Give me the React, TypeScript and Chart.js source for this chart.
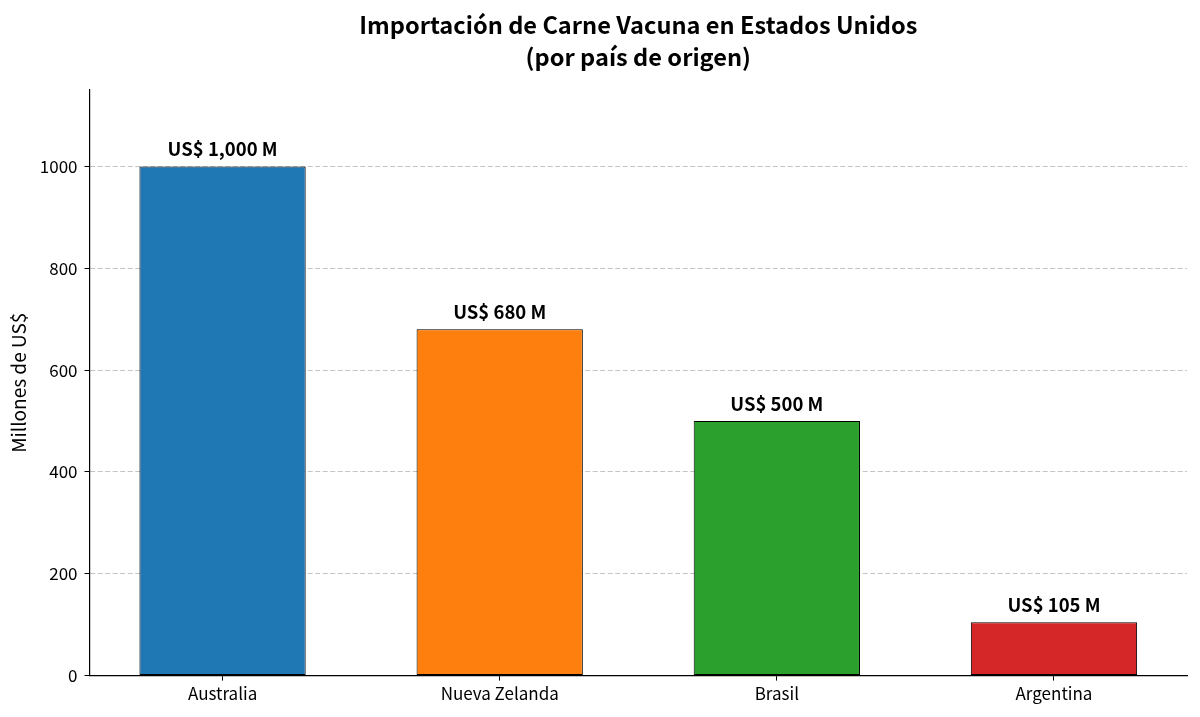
import { useEffect, useRef } from "react"
import { Chart, registerables, type ChartConfiguration, type Plugin } from "chart.js"

Chart.register(...registerables)

const FONT = "'Noto Sans CJK JP', 'Noto Sans', sans-serif"

const countries = ["Australia", "Nueva Zelanda", "Brasil", "Argentina"]
const imports = [1000, 680, 500, 105]
const valueLabels = ["US$ 1,000 M", "US$ 680 M", "US$ 500 M", "US$ 105 M"]
const barColors = ["#1f77b4", "#ff7f0e", "#2ca02c", "#d62728"]
const yTicks = [0, 200, 400, 600, 800, 1000]
const titleLines = ["Importación de Carne Vacuna en Estados Unidos", "(por país de origen)"]

// draws the value above each bar and the title centred over the plot area
const labelsPlugin: Plugin<"bar"> = {
  id: "barLabels",
  afterDatasetsDraw(chart) {
    const { ctx, chartArea } = chart
    const meta = chart.getDatasetMeta(0)
    ctx.save()
    ctx.fillStyle = "#000"
    ctx.textAlign = "center"
    ctx.textBaseline = "bottom"
    ctx.font = `bold 18.5px ${FONT}`
    meta.data.forEach((bar, i) => {
      ctx.fillText(valueLabels[i], bar.x, bar.y - 8)
    })

    const cx = (chartArea.left + chartArea.right) / 2
    ctx.font = `bold 23.6px ${FONT}`
    ctx.textBaseline = "middle"
    titleLines.forEach((line, i) => {
      ctx.fillText(line, cx, 25 + i * 32)
    })
    ctx.restore()
  },
}

export default function App() {
  const canvasRef = useRef<HTMLCanvasElement>(null)

  useEffect(() => {
    if (!canvasRef.current) return

    const config: ChartConfiguration<"bar"> = {
      type: "bar",
      data: {
        datasets: [
          {
            data: imports.map((v, i) => ({ x: i, y: v })) as any,
            backgroundColor: barColors,
            borderColor: "#000",
            borderWidth: 1,
            borderSkipped: false,
            barPercentage: 0.6,
            categoryPercentage: 1,
          },
        ],
      },
      options: {
        animation: false,
        responsive: true,
        maintainAspectRatio: false,
        layout: { padding: { top: 90, right: 13, left: 7, bottom: 10 } },
        plugins: {
          legend: { display: false },
          title: { display: false },
          tooltip: { enabled: false },
        },
        scales: {
          x: {
            type: "linear",
            min: -0.48,
            max: 3.48,
            offset: false,
            afterBuildTicks: (axis) => {
              axis.ticks = countries.map((_, i) => ({ value: i }))
            },
            grid: {
              offset: false,
              drawOnChartArea: false,
              tickLength: 5,
              tickColor: "#000",
              tickWidth: 1,
            },
            border: { display: true, color: "#000", width: 1.2 },
            ticks: {
              color: "#000",
              font: { family: FONT, size: 17 },
              padding: 3,
              callback: (v) => countries[Number(v)] ?? "",
            },
          },
          y: {
            min: 0,
            max: 1150,
            afterBuildTicks: (axis) => {
              axis.ticks = yTicks.map((value) => ({ value }))
            },
            grid: {
              color: (c) => (c.tick && c.tick.value === 0 ? "transparent" : "#c4c4c4"),
              lineWidth: 1,
              tickLength: 5,
              tickColor: "#000",
              tickBorderDash: [],
              tickWidth: 1,
            },
            border: { display: true, color: "#000", width: 1.2, dash: [5, 2.5] },
            ticks: {
              color: "#000",
              font: { family: FONT, size: 17 },
              padding: 7,
              callback: (v) => String(v),
            },
            title: {
              display: true,
              text: "Millones de US$",
              color: "#000",
              font: { family: FONT, size: 19 },
              padding: { top: 0, bottom: 3 },
            },
          },
        },
      },
      plugins: [labelsPlugin],
    }

    const chart = new Chart(canvasRef.current, config)
    return () => chart.destroy()
  }, [])

  return (
    <div style={{ position: "fixed", left: 0, top: 0, width: 1200, height: 717, background: "#fff" }}>
      <canvas ref={canvasRef}></canvas>
    </div>
  )
}
